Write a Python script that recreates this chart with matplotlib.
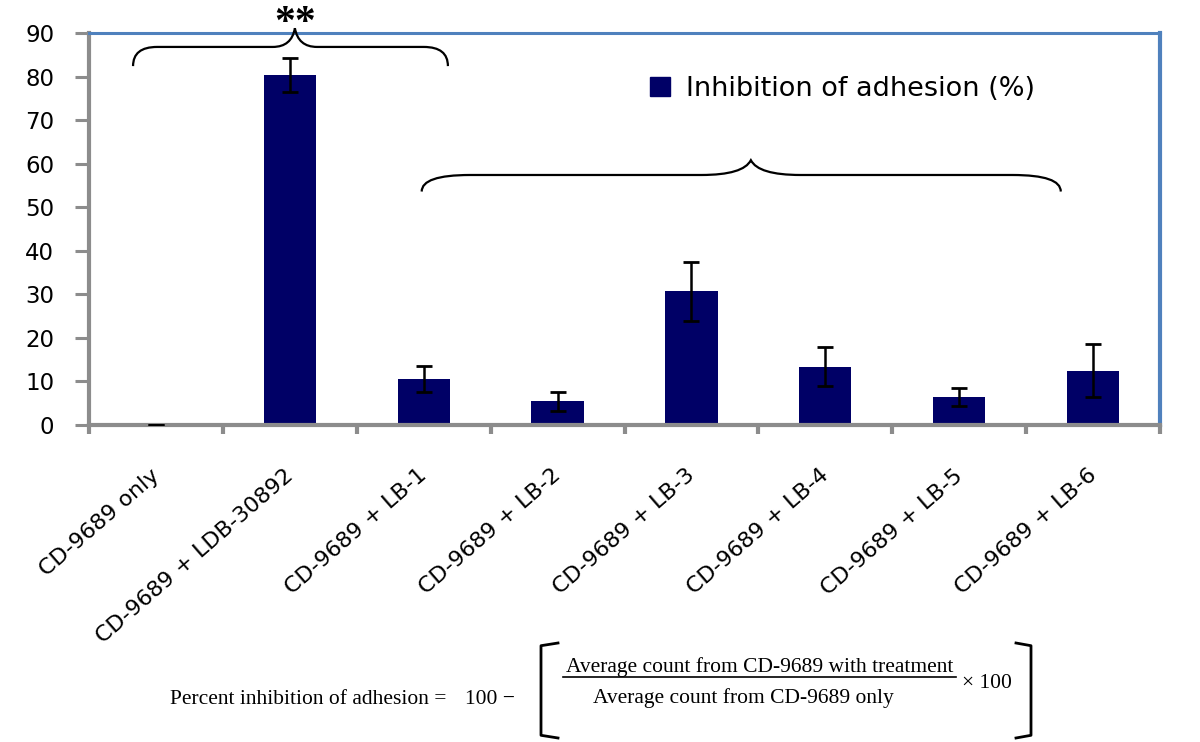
import numpy as np
import matplotlib.pyplot as plt
from matplotlib.path import Path
from matplotlib.patches import PathPatch, Patch
from matplotlib.lines import Line2D
from matplotlib.transforms import ScaledTranslation

# ---- data -------------------------------------------------
categories = ["CD-9689 only", "CD-9689 + LDB-30892", "CD-9689 + LB-1",
              "CD-9689 + LB-2", "CD-9689 + LB-3", "CD-9689 + LB-4",
              "CD-9689 + LB-5", "CD-9689 + LB-6"]
inhibition = [0.0, 80.3, 10.5, 5.4, 30.7, 13.4, 6.4, 12.5]
errors = [0.0, 3.9, 3.0, 2.1, 6.8, 4.4, 2.1, 6.0]
y_ticks = [0, 10, 20, 30, 40, 50, 60, 70, 80, 90]

BAR = '#000066'
GRAY = '#8c8c8c'
BLUE = '#4f81bd'

W, H = 1200, 742
fig = plt.figure(figsize=(12, 7.42), dpi=100)


def px(x, y):
    # pixel position (from top-left) -> figure fraction
    return x / W, 1 - y / H


ax = fig.add_axes([89 / W, 1 - 425 / H, (1160 - 89) / W, (425 - 33) / H])

x = np.arange(len(categories))
ax.bar(x, inhibition, width=0.39, color=BAR, zorder=2)
ax.errorbar(x, inhibition, yerr=errors, fmt='none', ecolor='black',
            elinewidth=1.8, capsize=5.5, capthick=2, zorder=3)

ax.set_xlim(-0.5, len(categories) - 0.5)
ax.set_ylim(0, 90)
ax.set_yticks(y_ticks)
ax.tick_params(axis='y', length=10, width=2.2, color=GRAY, pad=15,
               labelsize=16.5, direction='out')

# ticks between categories, labels under the categories
ax.set_xticks(np.arange(len(categories) + 1) - 0.5)
ax.set_xticklabels([])
ax.tick_params(axis='x', which='major', length=6.5, width=3, color=GRAY)
ax.set_xticks(x, categories, minor=True)
ax.tick_params(axis='x', which='minor', length=0, pad=29, labelsize=16)
shift = ScaledTranslation(-6 / 100, 0, fig.dpi_scale_trans)
for lab in ax.get_xticklabels(minor=True):
    lab.set_rotation(41)
    lab.set_ha('right')
    lab.set_va('top')
    lab.set_rotation_mode('anchor')
    lab.set_transform(lab.get_transform() + shift)

for side in ['left', 'bottom']:
    ax.spines[side].set_color(GRAY)
    ax.spines[side].set_linewidth(3)
ax.spines['top'].set_color(BLUE)
ax.spines['top'].set_linewidth(2.2)
ax.spines['right'].set_color(BLUE)
ax.spines['right'].set_linewidth(3)


# ---- curly braces -----------------------------------------
def brace(x0, x1, xm, y_end, y_h, y_tip, a, b):
    verts = [(x0, y_end), (x0, y_h), (x0 + a, y_h),
             (xm - b, y_h),
             (xm - 0.15 * b, y_h), (xm, y_tip),
             (xm + 0.15 * b, y_h), (xm + b, y_h),
             (x1 - a, y_h),
             (x1, y_h), (x1, y_end)]
    codes = [Path.MOVETO, Path.CURVE3, Path.CURVE3,
             Path.LINETO,
             Path.CURVE3, Path.CURVE3,
             Path.CURVE3, Path.CURVE3,
             Path.LINETO,
             Path.CURVE3, Path.CURVE3]
    ax.add_patch(PathPatch(Path(verts, codes), fill=False, lw=1.6,
                           color='black', clip_on=False, zorder=4))


brace(-0.171, 2.181, 1.038, 82.4, 86.8, 91.1, 0.18, 0.165)
brace(1.985, 6.759, 4.444, 53.6, 57.4, 60.8, 0.36, 0.37)

fig.text(*px(295, 24), '**', fontsize=30, fontweight='bold',
         family='Liberation Serif', ha='center', va='center')

# ---- legend -----------------------------------------------
fig.legend(handles=[Patch(facecolor=BAR, edgecolor=BAR)],
           labels=['Inhibition of adhesion (%)'],
           loc='center left', bbox_to_anchor=px(650, 89),
           bbox_transform=fig.transFigure, frameon=False,
           fontsize=19.5, handlelength=0.72, handleheight=0.72,
           handletextpad=0.6, borderpad=0, borderaxespad=0)

# ---- formula below the chart ------------------------------
serif = 'Liberation Serif'
fig.text(*px(170, 699), 'Percent inhibition of adhesion =', family=serif,
         fontsize=15.5, ha='left', va='center')
fig.text(*px(465, 699), '100 \u2212', family=serif, fontsize=15.5,
         ha='left', va='center')
fig.text(*px(760, 667), 'Average count from CD-9689 with treatment',
         family=serif, fontsize=15.5, ha='center', va='center')
fig.text(*px(743, 698), 'Average count from CD-9689 only', family=serif,
         fontsize=15.5, ha='center', va='center')
fig.text(*px(962, 684), '\u00d7 100', family=serif, fontsize=15.5,
         ha='left', va='center')

ux0, uy = px(563, 677)
ux1, _ = px(956, 677)
fig.add_artist(Line2D([ux0, ux1], [uy, uy], color='black', lw=1.2,
                      transform=fig.transFigure))


def bracket(xe, xv, top, bot, r):
    pts = [(xe, top), (xv, top + r * 0.3), (xv, top + r),
           (xv, bot - r), (xv, bot - r * 0.3), (xe, bot)]
    fx = [px(p[0], p[1])[0] for p in pts]
    fy = [px(p[0], p[1])[1] for p in pts]
    fig.add_artist(Line2D(fx, fy, color='black', lw=2,
                          transform=fig.transFigure,
                          solid_joinstyle='round'))


bracket(558, 541, 643, 738, 9)
bracket(1016, 1031, 643, 738, 9)

fig.savefig('out.png', dpi=100)
